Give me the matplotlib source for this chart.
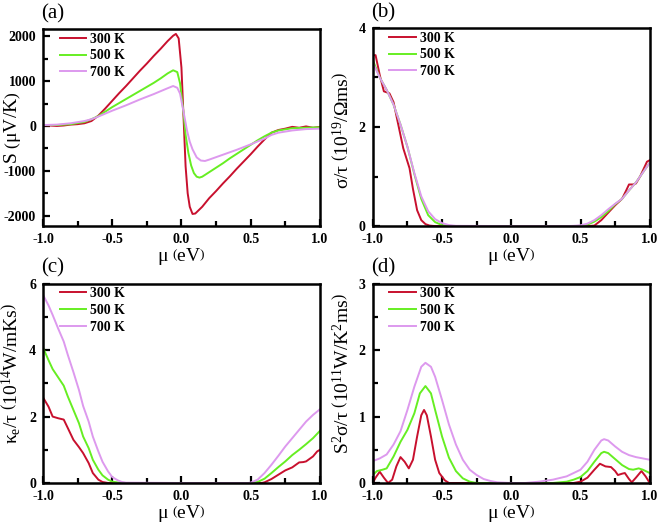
import matplotlib
matplotlib.use("Agg")
import matplotlib.pyplot as plt
from matplotlib.ticker import MultipleLocator

plt.rcParams['font.family'] = ['Liberation Serif', 'DejaVu Serif']
plt.rcParams['mathtext.fontset'] = 'custom'
plt.rcParams['mathtext.rm'] = 'Liberation Serif'
plt.rcParams['mathtext.it'] = 'Liberation Serif:italic'

temps = ['300 K', '500 K', '700 K']
colors = ['#c8102e', '#66ee22', '#dd99ee']

# (a) Seebeck coefficient
sa_x300 = [-1.0, -0.95, -0.9, -0.85, -0.8, -0.75, -0.7, -0.65, -0.6, -0.55, -0.5, -0.45, -0.4, -0.35,
           -0.3, -0.25, -0.2, -0.15, -0.1, -0.06, -0.04, -0.02, 0.0, 0.013, 0.03, 0.045, 0.06, 0.08,
           0.1, 0.15, 0.2, 0.25, 0.3, 0.35, 0.4, 0.45, 0.5, 0.55, 0.6, 0.65, 0.7, 0.75, 0.8, 0.85,
           0.9, 0.95, 1.0]
sa_y300 = [20, 10, 0, 10, 30, 40, 60, 110, 230, 390, 560, 730, 890, 1060,
           1230, 1390, 1560, 1720, 1890, 2010, 2050, 1950, 1300, 350, -900, -1500, -1800, -1960,
           -1950, -1800, -1610, -1450, -1280, -1120, -950, -790, -630, -460, -300, -150, -90, -60, -20, -40,
           -10, -40, -20]
sa_x500 = [-1.0, -0.9, -0.8, -0.7, -0.65, -0.6, -0.55, -0.5, -0.45, -0.4, -0.35, -0.3, -0.25, -0.2,
           -0.15, -0.1, -0.06, -0.03, -0.01, 0.013, 0.03, 0.05, 0.07, 0.09, 0.11, 0.13, 0.15, 0.2,
           0.25, 0.3, 0.35, 0.4, 0.45, 0.5, 0.55, 0.6, 0.65, 0.7, 0.8, 0.9, 1.0]
sa_y500 = [20, 20, 40, 90, 150, 220, 320, 420, 510, 600, 690, 780, 870, 960,
           1060, 1170, 1240, 1200, 950, 350, -200, -600, -880, -1050, -1130, -1150, -1130, -1030,
           -930, -830, -720, -620, -520, -420, -320, -230, -150, -100, -50, -40, -30]
sa_x700 = [-1.0, -0.9, -0.8, -0.7, -0.65, -0.6, -0.5, -0.4, -0.3, -0.2, -0.1, -0.06, -0.03, -0.01,
           0.013, 0.04, 0.06, 0.08, 0.11, 0.14, 0.17, 0.2, 0.3, 0.4, 0.5, 0.6, 0.65, 0.7, 0.8, 0.9, 1.0]
sa_y700 = [20, 30, 60, 110, 150, 210, 340, 460, 590, 710, 840, 890, 850, 720,
           350, -100, -350, -520, -700, -770, -780, -750, -640, -530, -410, -280, -200, -150, -100, -70, -60]

# (b) electrical conductivity / tau
sb_x300 = [-1.0, -0.98, -0.95, -0.92, -0.88, -0.85, -0.82, -0.78, -0.735, -0.71, -0.68, -0.65, -0.62,
           -0.59, -0.55, -0.5, 0.0, 0.55, 0.6, 0.65, 0.7, 0.75, 0.8, 0.83, 0.85, 0.88, 0.9, 0.93,
           0.95, 0.98, 1.0]
sb_y300 = [3.45, 3.45, 3.05, 2.72, 2.68, 2.5, 2.1, 1.57, 1.17, 0.75, 0.32, 0.12, 0.04,
           0.01, 0.0, 0.0, 0.0, 0.0, 0.01, 0.12, 0.27, 0.42, 0.55, 0.72, 0.84, 0.84, 0.86, 1.0,
           1.12, 1.3, 1.33]
sb_x500 = [-1.0, -0.95, -0.9, -0.85, -0.8, -0.75, -0.7, -0.65, -0.6, -0.55, -0.5, -0.45, -0.4, 0.0,
           0.45, 0.5, 0.55, 0.6, 0.65, 0.7, 0.75, 0.8, 0.85, 0.9, 0.95, 1.0]
sb_y500 = [3.35, 3.0, 2.75, 2.45, 2.05, 1.6, 1.05, 0.55, 0.22, 0.08, 0.02, 0.005, 0.0, 0.0,
           0.0, 0.005, 0.03, 0.09, 0.18, 0.3, 0.44, 0.55, 0.72, 0.88, 1.08, 1.28]
sb_x700 = [-1.0, -0.95, -0.9, -0.85, -0.8, -0.75, -0.7, -0.65, -0.6, -0.55, -0.5, -0.45, -0.4, 0.0,
           0.4, 0.45, 0.5, 0.55, 0.6, 0.65, 0.7, 0.75, 0.8, 0.85, 0.9, 0.95, 1.0]
sb_y700 = [3.3, 3.0, 2.75, 2.45, 2.05, 1.6, 1.07, 0.6, 0.3, 0.14, 0.06, 0.02, 0.005, 0.0,
           0.0, 0.005, 0.015, 0.05, 0.12, 0.22, 0.34, 0.45, 0.55, 0.72, 0.88, 1.08, 1.28]

# (c) electronic thermal conductivity / tau
sc_x300 = [-1.0, -0.96, -0.93, -0.89, -0.85, -0.82, -0.78, -0.74, -0.71, -0.67, -0.64, -0.6, -0.57,
           -0.53, -0.5, 0.0, 0.58, 0.6, 0.65, 0.7, 0.75, 0.8, 0.85, 0.88, 0.9, 0.95, 0.98, 1.0]
sc_y300 = [2.58, 2.3, 2.0, 1.95, 1.91, 1.65, 1.3, 1.08, 0.9, 0.6, 0.3, 0.1, 0.03,
           0.0, 0.0, 0.0, 0.0, 0.02, 0.12, 0.25, 0.38, 0.47, 0.62, 0.63, 0.65, 0.8, 0.95, 1.0]
sc_x500 = [-1.0, -0.96, -0.93, -0.89, -0.85, -0.82, -0.78, -0.74, -0.71, -0.67, -0.64, -0.6, -0.57,
           -0.53, -0.5, -0.45, -0.4, 0.0, 0.5, 0.55, 0.6, 0.65, 0.7, 0.75, 0.8, 0.85, 0.9, 0.95, 1.0]
sc_y500 = [4.08, 3.7, 3.43, 3.18, 2.93, 2.6, 2.2, 1.8, 1.4, 1.05, 0.7, 0.4, 0.23,
           0.1, 0.04, 0.01, 0.0, 0.0, 0.0, 0.03, 0.13, 0.3, 0.48, 0.65, 0.84, 1.0, 1.17, 1.35, 1.57]
sc_x700 = [-1.0, -0.96, -0.93, -0.89, -0.85, -0.82, -0.78, -0.74, -0.71, -0.67, -0.64, -0.6, -0.57,
           -0.53, -0.5, -0.46, -0.43, -0.4, 0.0, 0.48, 0.5, 0.55, 0.6, 0.65, 0.7, 0.75, 0.8, 0.85,
           0.9, 0.95, 1.0]
sc_y700 = [5.67, 5.35, 5.06, 4.65, 4.26, 3.85, 3.34, 2.8, 2.32, 1.85, 1.4, 0.95, 0.64,
           0.35, 0.18, 0.08, 0.03, 0.01, 0.0, 0.0, 0.01, 0.1, 0.3, 0.55, 0.82, 1.1, 1.35, 1.6,
           1.85, 2.05, 2.22]

# (d) power factor / tau
sd_x300 = [-1.0, -0.98, -0.95, -0.92, -0.89, -0.86, -0.83, -0.8, -0.77, -0.74, -0.71, -0.68, -0.65,
           -0.63, -0.61, -0.58, -0.55, -0.52, -0.48, -0.45, 0.0, 0.45, 0.5, 0.55, 0.6, 0.64, 0.68,
           0.72, 0.75, 0.77, 0.8, 0.82, 0.85, 0.87, 0.9, 0.94, 0.97, 1.0]
sd_y300 = [0.0, 0.08, 0.17, 0.08, 0.0, 0.05, 0.25, 0.39, 0.32, 0.22, 0.35, 0.7, 1.02,
           1.1, 1.02, 0.7, 0.35, 0.15, 0.04, 0.0, 0.0, 0.0, 0.02, 0.08, 0.2, 0.29, 0.25,
           0.24, 0.18, 0.12, 0.14, 0.15, 0.06, 0.01, 0.08, 0.18, 0.1, 0.0]
sd_x500 = [-1.0, -0.97, -0.93, -0.9, -0.85, -0.8, -0.75, -0.7, -0.66, -0.62, -0.58, -0.55, -0.5,
           -0.45, -0.4, -0.35, -0.3, -0.25, 0.0, 0.3, 0.4, 0.45, 0.5, 0.55, 0.6, 0.65, 0.67, 0.7,
           0.75, 0.8, 0.85, 0.88, 0.92, 0.95, 1.0]
sd_y500 = [0.12, 0.18, 0.2, 0.22, 0.4, 0.62, 0.8, 1.05, 1.35, 1.46, 1.35, 1.1, 0.7,
           0.38, 0.18, 0.07, 0.02, 0.0, 0.0, 0.0, 0.02, 0.05, 0.09, 0.18, 0.32, 0.45, 0.47, 0.45,
           0.36, 0.27, 0.21, 0.2, 0.22, 0.2, 0.15]
sd_x700 = [-1.0, -0.95, -0.9, -0.85, -0.8, -0.75, -0.7, -0.65, -0.62, -0.58, -0.55, -0.5, -0.45,
           -0.4, -0.35, -0.3, -0.25, -0.2, -0.15, -0.1, 0.0, 0.1, 0.2, 0.3, 0.4, 0.45, 0.5, 0.55,
           0.6, 0.65, 0.67, 0.7, 0.75, 0.8, 0.85, 0.9, 0.95, 1.0]
sd_y700 = [0.33, 0.37, 0.43, 0.58, 0.78, 1.1, 1.45, 1.75, 1.81, 1.75, 1.6, 1.25, 0.88,
           0.58, 0.35, 0.2, 0.12, 0.06, 0.03, 0.01, 0.0, 0.0, 0.02, 0.05, 0.1, 0.15, 0.2, 0.32,
           0.5, 0.64, 0.66, 0.64, 0.55, 0.47, 0.42, 0.39, 0.37, 0.35]

panels = [
    ('(a)', [(sa_x300, sa_y300), (sa_x500, sa_y500), (sa_x700, sa_y700)],
     r'S $\left(\mathrm{\mu V/K}\right)$', (-2230, 2160), 500, [-2000, -1000, 0, 1000, 2000], 0.5),
    ('(b)', [(sb_x300, sb_y300), (sb_x500, sb_y500), (sb_x700, sb_y700)],
     r'σ/τ $\left(\mathrm{10^{19}/\Omega ms}\right)$', (0, 4), 1, [0, 2, 4], 0.48),
    ('(c)', [(sc_x300, sc_y300), (sc_x500, sc_y500), (sc_x700, sc_y700)],
     r'κ$_\mathrm{e}$/τ $\left(\mathrm{10^{14}W/mKs}\right)$', (0, 6), 1, [0, 2, 4, 6], 0.55),
    ('(d)', [(sd_x300, sd_y300), (sd_x500, sd_y500), (sd_x700, sd_y700)],
     r'S$^2$σ/τ $\left(\mathrm{10^{11}W/K^2ms}\right)$', (0, 3), 0.5, [0, 1, 2, 3], 0.55),
]

# axes boxes in figure fraction (left, bottom, width, height)
boxes = [
    [0.065, 0.571, 0.419, 0.374],
    [0.564, 0.571, 0.419, 0.376],
    [0.065, 0.0835, 0.419, 0.378],
    [0.564, 0.0835, 0.419, 0.378],
]

fig = plt.figure(figsize=(6.61, 5.27), dpi=100)

for (tag, series, ylab, ylim, mnr, yticks, ly), box in zip(panels, boxes):
    ax = fig.add_axes(box)
    for (xs, ys), c, t in zip(series, colors, temps):
        ax.plot(xs, ys, color=c, lw=1.4, label=t)
    ax.set_xlim(-1, 1)
    ax.set_ylim(*ylim)
    ax.set_xticks([-1, -0.5, 0, 0.5, 1])
    ax.set_xticklabels(['-1.0', '-0.5', '0.0', '0.5', '1.0'])
    ax.xaxis.set_minor_locator(MultipleLocator(0.25))
    ax.set_yticks(yticks)
    ax.set_yticklabels([str(v) for v in yticks])
    ax.yaxis.set_minor_locator(MultipleLocator(mnr))
    ax.tick_params(which='both', direction='in', top=False, right=False, width=1.6)
    ax.tick_params(which='major', length=5, labelsize=10, pad=5)
    ax.tick_params(which='minor', length=3.5)
    for lbl in ax.get_xticklabels() + ax.get_yticklabels():
        lbl.set_fontweight('bold')
    for sp in ax.spines.values():
        sp.set_linewidth(1.8)
    ax.set_xlabel(r'μ $\left(\mathrm{eV}\right)$', fontsize=14, labelpad=0)
    ax.set_ylabel(ylab, fontsize=14)
    ax.yaxis.set_label_coords(-0.072, ly)
    ax.text(-0.005, 1.03, tag, transform=ax.transAxes, fontsize=15, ha='left', va='bottom')
    ax.legend(loc='upper left', frameon=False, prop={'weight': 'bold', 'size': 10},
              handlelength=1.9, handletextpad=0.3, labelspacing=0.28,
              borderaxespad=0.0, bbox_to_anchor=(0.04, 1.01))

fig.savefig('out.png', dpi=100)
